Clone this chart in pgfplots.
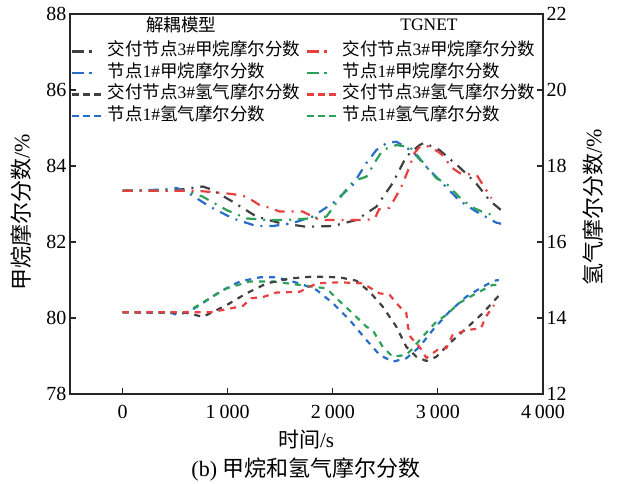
\documentclass[border=0pt]{standalone}
\usepackage{fontspec}
\setmainfont{Liberation Serif}
\newfontfamily\cjk{Noto Sans CJK SC}
\usepackage{pgfplots}
\pgfplotsset{compat=1.18}
\definecolor{cblk}{RGB}{64,64,64}
\definecolor{cred}{RGB}{232,64,64}
\definecolor{cblu}{RGB}{40,110,200}
\definecolor{cgrn}{RGB}{45,160,90}
\tikzset{
 ldd/.style={line width=2.4pt, dash pattern=on 12pt off 5pt on 2.5pt off 30pt},
 lds/.style={line width=2.4pt, dash pattern=on 7pt off 4pt},
}
\pgfplotsset{
 common/.style={
   scale only axis, width=473pt, height=380pt,
   at={(70pt,90pt)}, anchor=south west,
   xmin=-500, xmax=4000, clip=false,
   tick align=inside, major tick length=6pt,
   tick style={line width=1.1pt, color=black!85},
   axis line style={line width=1.2pt, color=black!85},
   tick label style={font=\fontsize{20}{24}\selectfont},
   /pgf/number format/assume math mode=true,
 }
}
\begin{document}
\begin{tikzpicture}
\useasboundingbox (0pt,0pt) rectangle (618pt,484pt);
\begin{axis}[common, ymin=78, ymax=88, ytick={78,80,...,88},
  xtick pos=left, ytick pos=left,
  xticklabel style={yshift=-8pt},
  xtick={0,1000,2000,3000,4000},
  xticklabels={0,1\kern0.2em000,2\kern0.2em000,3\kern0.2em000,4\kern0.2em000}]
% 解耦模型 交付节点3 甲烷
\addplot[color=cblk, line width=2.2pt, dash pattern=on 10pt off 7pt on 2pt off 7pt, forget plot] coordinates {
(0,83.35)(500,83.36)(650,83.42)(763,83.46)(850,83.38)(1048,83.06)(1273,82.67)
(1495,82.50)(1750,82.40)(2000,82.42)(2225,82.58)(2415,82.93)(2570,83.55)
(2700,84.25)(2825,84.55)(2870,84.61)(3015,84.42)(3200,83.98)(3365,83.54)
(3490,83.10)(3600,82.84)};
% 解耦模型 节点1 甲烷
\addplot[color=cblu, line width=2.2pt, dash pattern=on 10pt off 7pt on 2pt off 7pt, forget plot] coordinates {
(0,83.35)(400,83.38)(515,83.42)(610,83.32)(830,82.93)(1050,82.62)(1273,82.42)
(1430,82.42)(1620,82.50)(1810,82.67)(2000,83.02)(2190,83.50)(2320,84.08)
(2415,84.42)(2510,84.60)(2605,84.64)(2760,84.38)(2890,83.98)(3045,83.54)
(3200,83.10)(3365,82.80)(3555,82.51)(3600,82.48)};
% TGNET 节点1 甲烷
\addplot[color=cgrn, line width=2.2pt, dash pattern=on 10pt off 7pt on 2pt off 7pt, forget plot] coordinates {
(0,83.35)(610,83.35)(765,83.19)(990,82.84)(1180,82.62)(1370,82.58)(1560,82.58)
(1780,82.62)(1940,82.67)(1985,82.84)(2030,83.02)(2160,83.50)(2225,83.63)
(2320,83.72)(2415,84.16)(2475,84.42)(2605,84.55)(2730,84.50)(2790,84.33)
(2890,83.98)(2985,83.68)(3080,83.54)(3200,83.19)(3320,82.92)(3420,82.80)
(3560,82.67)};
% TGNET 交付节点3 甲烷
\addplot[color=cred, line width=2.2pt, dash pattern=on 10pt off 7pt on 2pt off 7pt, forget plot] coordinates {
(0,83.35)(700,83.35)(945,83.29)(1050,83.26)(1180,83.19)(1305,82.97)(1400,82.90)
(1495,82.80)(1715,82.80)(1875,82.58)(2095,82.58)(2320,82.58)(2400,82.62)
(2440,82.86)(2540,82.90)(2600,83.19)(2660,83.50)(2730,83.98)(2775,84.33)
(2825,84.50)(2880,84.55)(3000,84.38)(3060,84.25)(3120,83.98)(3210,83.81)
(3370,83.76)(3440,83.45)(3510,83.15)};
\end{axis}
\begin{axis}[common, ymin=12, ymax=22, ytick={12,14,...,22},
  axis x line=none, axis y line*=right, ytick pos=right,
  legend columns=2, legend cell align=left,
  legend image code/.code={\draw[#1] (0pt,0pt) -- (33pt,0pt);},
  legend style={at={(0,1)}, anchor=north west, xshift=1pt, yshift=-26.5pt,
    draw=none, fill=none, inner sep=0pt, row sep=0pt,
    font=\fontsize{17.5}{21}\selectfont,
    nodes={inner xsep=1pt, inner ysep=0pt, text height=15pt, text depth=6.5pt},
    /tikz/every even column/.append style={column sep=5pt}}]
% 解耦模型 节点1 氢气
\addplot[color=cblu, line width=2.2pt, dash pattern=on 6pt off 6pt, forget plot] coordinates {
(0,14.15)(450,14.14)(527,14.08)(640,14.18)(735,14.34)(925,14.69)(1115,14.96)
(1305,15.07)(1465,15.07)(1685,14.91)(1845,14.74)(2000,14.39)(2160,13.95)
(2320,13.42)(2445,13.03)(2570,12.85)(2700,12.94)(2825,13.24)(2950,13.68)
(3110,14.17)(3270,14.56)(3425,14.82)(3535,14.98)(3580,15.00)};
% TGNET 节点1 氢气
\addplot[color=cgrn, line width=2.2pt, dash pattern=on 6pt off 6pt, forget plot] coordinates {
(0,14.15)(610,14.15)(800,14.47)(990,14.78)(1210,14.96)(1430,14.96)(1685,14.87)
(1940,14.78)(2035,14.52)(2190,14.12)(2320,13.77)(2380,13.68)(2475,13.24)
(2570,12.98)(2700,13.03)(2760,13.20)(2855,13.51)(2985,13.90)(3080,14.08)
(3200,14.39)(3365,14.65)(3520,14.87)(3600,14.87)};
% 解耦模型 交付节点3 氢气
\addplot[color=cblk, line width=2.2pt, dash pattern=on 6pt off 6pt, forget plot] coordinates {
(0,14.15)(600,14.14)(765,14.03)(990,14.34)(1180,14.65)(1370,14.91)(1590,15.04)
(1810,15.09)(2065,15.07)(2225,14.98)(2350,14.69)(2475,14.30)(2605,13.77)
(2700,13.24)(2795,12.98)(2890,12.87)(2985,12.98)(3110,13.33)(3270,13.73)
(3425,14.12)(3600,14.65)};
% TGNET 交付节点3 氢气
\addplot[color=cred, line width=2.2pt, dash pattern=on 6pt off 6pt, forget plot] coordinates {
(0,14.15)(830,14.15)(990,14.23)(1145,14.32)(1225,14.52)(1335,14.55)(1465,14.67)
(1685,14.69)(1845,14.91)(2065,14.94)(2285,14.91)(2445,14.65)(2540,14.61)
(2635,14.30)(2700,14.13)(2715,13.77)(2740,13.50)(2825,13.24)(2890,12.95)
(3015,13.20)(3080,13.20)(3140,13.55)(3270,13.68)(3410,13.73)(3455,14.03)
(3535,14.34)};
\addlegendimage{cblk, ldd}
\addlegendentry{{\cjk 交付节点}3\#{\cjk 甲烷摩尔分数}}
\addlegendimage{cred, ldd}
\addlegendentry{{\cjk 交付节点}3\#{\cjk 甲烷摩尔分数}}
\addlegendimage{cblu, ldd}
\addlegendentry{{\cjk 节点}1\#{\cjk 甲烷摩尔分数}}
\addlegendimage{cgrn, ldd}
\addlegendentry{{\cjk 节点}1\#{\cjk 甲烷摩尔分数}}
\addlegendimage{cblk, lds}
\addlegendentry{{\cjk 交付节点}3\#{\cjk 氢气摩尔分数}}
\addlegendimage{cred, lds}
\addlegendentry{{\cjk 交付节点}3\#{\cjk 氢气摩尔分数}}
\addlegendimage{cblu, lds}
\addlegendentry{{\cjk 节点}1\#{\cjk 氢气摩尔分数}}
\addlegendimage{cgrn, lds}
\addlegendentry{{\cjk 节点}1\#{\cjk 氢气摩尔分数}}
\end{axis}
\node[font=\fontsize{17.5}{21}\selectfont\cjk] at (181pt,459pt) {解耦模型};
\node[font=\fontsize{17.5}{21}\selectfont] at (429pt,459pt) {TGNET};
\node[rotate=90, font=\fontsize{22}{26}\selectfont] at (21pt,272pt) {{\cjk 甲烷摩尔分数}/\%};
\node[rotate=90, font=\fontsize{22}{26}\selectfont] at (593pt,277pt) {{\cjk 氢气摩尔分数}/\%};
\node[font=\fontsize{21}{25}\selectfont] at (306pt,44pt) {{\cjk 时间}/s};
\node[font=\fontsize{22}{26}\selectfont] at (306pt,14pt) {(b) {\cjk 甲烷和氢气摩尔分数}};
\end{tikzpicture}
\end{document}
